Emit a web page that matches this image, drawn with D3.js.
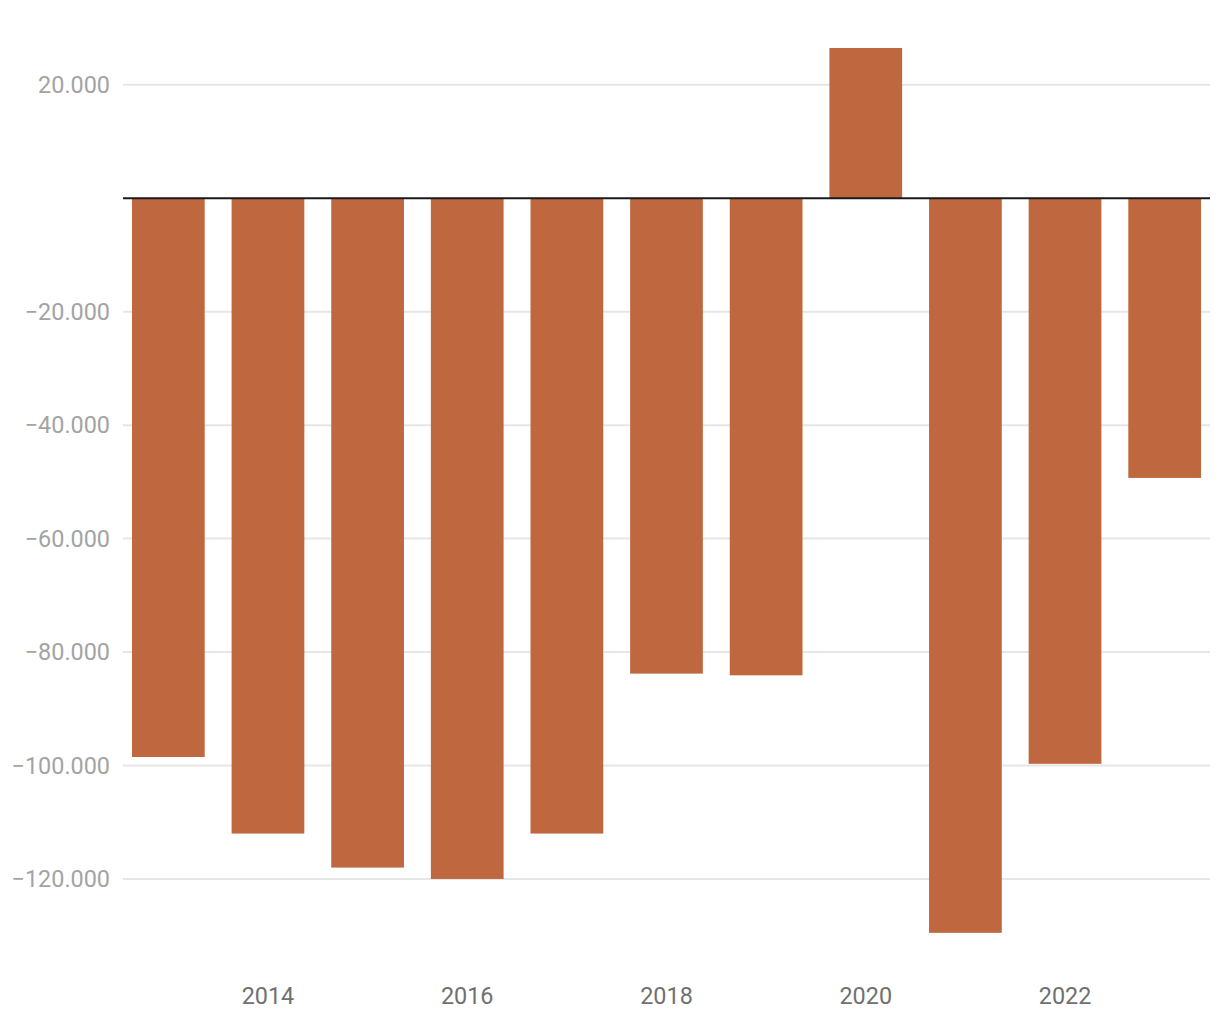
<!DOCTYPE html>
<html>
<head>
<meta charset="utf-8">
<script src="https://cdn.jsdelivr.net/npm/d3@7"></script>
<style>
  body { margin: 0; background: #fff; }
  text { font-family: Roboto, "Noto Sans", sans-serif; }
</style>
</head>
<body>
<div id="chart-area"></div>
<script>
// data
var years = ["2013", "2014", "2015", "2016", "2017", "2018", "2019", "2020", "2021", "2022", "2023"];
var values = [-98500, -112000, -118000, -120000, -112000, -83800, -84100, 26500, -129500, -99700, -49300];
var yTicks = [-120000, -100000, -80000, -60000, -40000, -20000, 20000];
var xTicks = ["2014", "2016", "2018", "2020", "2022"];

var width = 1220, height = 1020;
var left = 123, right = 1210;

var svg = d3.select("#chart-area")
    .append("svg")
    .attr("width", width)
    .attr("height", height);

var locale = d3.formatLocale({
    decimal: ",", thousands: ".", grouping: [3], currency: ["", ""], minus: "\u2212"
});
var fmt = locale.format(",.0f");

var x = d3.scaleBand()
    .domain(years)
    .range([left, right])
    .paddingInner(0.27)
    .paddingOuter(0.09);

var y = d3.scaleLinear()
    .domain([-140000, 40000])
    .range([992.4, -28.6]);

// gridlines
svg.append("g")
    .selectAll("line")
    .data(yTicks)
    .enter().append("line")
    .attr("x1", left)
    .attr("x2", right)
    .attr("y1", function (d) { return y(d) })
    .attr("y2", function (d) { return y(d) })
    .attr("stroke", "#e6e6e6")
    .attr("stroke-width", 2);

// y labels
svg.append("g")
    .selectAll("text")
    .data(yTicks)
    .enter().append("text")
    .attr("x", 110)
    .attr("y", function (d) { return y(d) })
    .attr("dy", "0.35em")
    .attr("text-anchor", "end")
    .attr("font-size", "23.4px")
    .attr("fill", "#a3a3a3")
    .text(function (d) { return fmt(d) });

// bars
svg.append("g")
    .selectAll("rect")
    .data(values)
    .enter().append("rect")
    .attr("x", function (d, i) { return x(years[i]) })
    .attr("width", x.bandwidth())
    .attr("y", function (d) { return y(Math.max(0, d)) })
    .attr("height", function (d) { return Math.abs(y(d) - y(0)) })
    .attr("fill", "#bf683f");

// zero line
svg.append("line")
    .attr("x1", left)
    .attr("x2", right)
    .attr("y1", y(0))
    .attr("y2", y(0))
    .attr("stroke", "#1a1a1a")
    .attr("stroke-width", 2);

// x labels
svg.append("g")
    .selectAll("text")
    .data(xTicks)
    .enter().append("text")
    .attr("x", function (d) { return x(d) + x.bandwidth() / 2 })
    .attr("y", 1004)
    .attr("text-anchor", "middle")
    .attr("font-size", "23.4px")
    .attr("fill", "#707070")
    .text(function (d) { return d });
</script>
</body>
</html>
